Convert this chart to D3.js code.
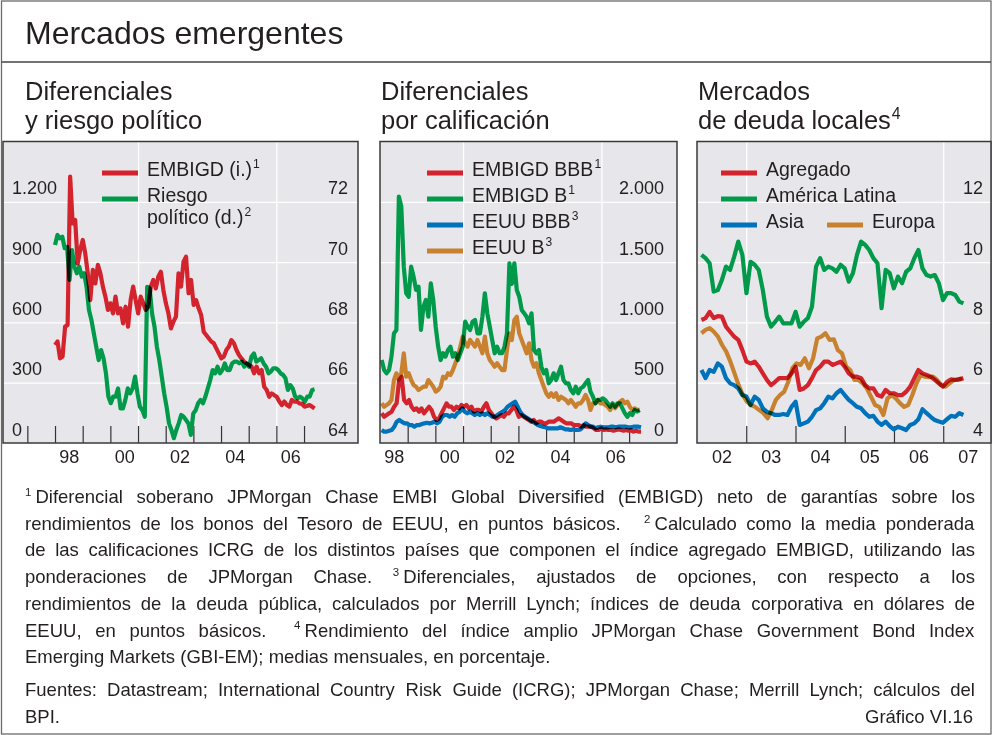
<!DOCTYPE html>
<html>
<head>
<meta charset="utf-8">
<script src="https://cdn.jsdelivr.net/npm/d3@7"></script>
<style>
  body { margin: 0; background: #fff; }
  svg text { font-family: "Liberation Sans", Arial, sans-serif; fill: #231f20; }
</style>
</head>
<body>
<svg id="chart" width="992" height="735"></svg>
<script>
(function () {
  // ---- data: panel 1, EMBIGD spread (bp, left) and political risk (ICRG, right)
  var p1Start = 1998.0, p1End = 2007.38;
  var embigd = [488,505,421,430,579,587,1325,1093,1110,894,960,1010,943,844,711,861,794,886,844,778,
    728,662,695,645,728,645,670,595,678,579,711,778,711,645,728,695,662,678,778,811,769,828,852,761,
    695,645,570,604,629,844,778,902,927,745,811,687,711,670,637,554,537,521,505,496,471,446,421,430,
    463,480,512,496,463,438,421,405,396,388,380,347,380,347,363,280,264,230,247,238,230,206,189,206,
    189,181,214,206,206,197,194,181,184,189,181,172];
  var riesgo = [70.57,70.9,70.79,70.84,70.46,70.5,69.41,70.4,69.85,69.63,69.85,69.52,69.63,69.18,68.41,
    68.08,67.64,67.19,66.75,67.08,66.81,66.31,65.54,65.32,65.54,65.54,65.81,65.15,65.15,65.43,65.81,
    65.65,65.81,66.2,65.65,65.2,65.09,64.87,69.18,69.13,68.3,67.86,67.19,66.75,66.2,65.65,65.2,64.65,
    64.43,64.16,64.43,64.65,64.93,64.87,64.76,64.65,64.27,64.98,65.09,65.32,65.43,65.32,65.54,65.81,
    66.09,66.42,66.31,66.53,66.31,66.42,66.64,66.42,66.42,66.64,66.7,66.7,66.64,66.7,66.53,66.64,66.53,
    66.86,66.97,66.7,66.75,66.81,66.64,66.53,66.31,66.37,66.48,66.48,66.42,66.31,66.26,66.15,65.76,
    65.92,65.81,65.54,65.48,65.54,65.48,65.37,65.54,65.54,65.76,65.78];

  // ---- panel 2, spreads by rating (bp)
  var p2Start = 1998.06, p2End = 2007.38;
  var embigdBBB = [246,218,232,246,260,301,329,522,550,357,329,357,301,274,287,260,287,246,274,301,274,
    218,191,204,246,287,329,301,301,274,301,287,315,301,315,287,301,260,274,274,260,301,329,274,246,218,
    204,218,232,218,246,246,274,301,274,218,232,218,204,191,177,191,163,177,177,163,163,177,177,177,191,
    204,191,177,163,163,163,149,149,149,135,149,135,135,135,122,108,108,122,108,113,108,108,102,108,113,
    108,102,108,102,108,94,102,94,94];
  var embigdB = [688,605,578,605,716,909,937,2043,1960,1462,1241,1213,1462,1379,1269,1296,937,1130,1186,
    1047,1324,1186,964,799,688,744,716,772,799,716,744,688,744,799,1006,964,937,1006,1020,909,909,1047,
    1241,1075,964,854,744,799,744,744,799,909,1490,1320,1490,1269,1213,1103,1075,1047,992,1075,772,744,
    772,633,578,605,495,522,578,522,578,633,522,495,495,439,412,467,412,453,467,495,522,426,384,329,357,
    357,370,357,329,301,329,301,329,329,287,246,218,246,232,274,260,274];
  var eeuuBBB = [108,94,94,102,108,135,177,191,177,163,163,149,149,135,149,149,157,163,168,163,168,177,
    163,177,218,232,232,218,232,218,246,260,287,260,246,260,246,232,246,232,246,232,246,232,218,218,232,
    246,260,274,301,315,329,343,301,260,232,218,204,191,177,163,149,141,135,130,122,122,122,122,122,130,
    122,113,113,108,113,108,108,113,135,163,149,135,135,122,130,135,130,130,130,135,135,130,135,135,135,
    135,130,130,135,135,135,130];
  var eeuuB = [329,301,315,329,357,522,578,522,578,744,550,578,522,481,467,439,453,467,467,522,495,467,
    426,439,467,550,536,578,564,605,661,716,799,882,827,799,854,827,799,854,799,744,882,744,688,661,633,
    661,633,605,605,772,909,854,1020,1047,909,854,799,744,827,688,633,661,578,522,467,412,384,412,384,
    412,357,384,370,357,329,357,329,301,329,329,357,398,357,274,329,329,357,329,329,315,301,274,315,287,
    315,343,357,329,343,301,274,287,274,274];

  // ---- panel 3, local debt market yields (%)
  var p3Start = 2002.09, p3End = 2007.41;
  var agregado = [8.08,8.14,8.35,8.14,8.21,8.19,7.86,7.69,7.53,7.42,7.08,6.7,6.64,6.7,6.53,6.31,6.09,5.92,
    6.03,6.15,6.15,6.15,6.31,6.53,5.76,5.81,5.92,6.15,6.42,6.53,6.7,6.7,6.59,6.64,6.7,6.53,6.31,6.2,6.2,
    6.15,5.92,5.81,5.81,5.59,5.54,5.76,5.65,5.65,5.59,5.59,5.7,5.87,6.15,6.42,6.31,6.26,6.2,6.09,5.98,
    5.87,6.03,6.11,6.09,6.11,6.15];
  var latam = [10.24,10.13,9.96,9.02,9.07,9.41,9.85,9.74,10.18,10.68,10.24,8.97,10.01,9.91,9.74,9.07,8.19,
    7.86,8.02,8.19,7.97,7.97,7.97,8.35,7.86,8.02,8.14,8.52,9.85,10.13,9.74,9.85,9.79,9.68,9.91,9.79,9.35,
    9.63,10.24,10.68,10.57,10.4,10.13,9.96,8.47,9.74,9.63,9.13,9.52,9.3,9.68,9.79,10.13,10.4,9.79,9.57,
    9.52,9.57,9.3,8.74,8.97,8.97,8.91,8.69,8.63];
  var asia = [6.42,6.15,6.42,6.36,6.64,6.53,6.15,5.98,5.92,5.81,5.59,5.54,5.26,5.54,5.43,5.15,5.03,4.99,
    4.93,4.93,4.96,4.93,5.2,5.37,4.6,4.65,4.71,4.87,5.09,5.15,5.32,5.54,5.48,5.65,5.76,5.59,5.43,5.32,5.2,
    5.15,4.99,4.87,4.9,4.71,4.6,4.71,4.56,4.45,4.54,4.49,4.43,4.6,4.65,4.79,5.12,4.99,4.87,4.76,4.71,
    4.67,4.79,4.9,4.87,4.99,4.93];
  var europa = [7.64,7.75,7.81,7.69,7.53,7.25,7.03,6.7,6.31,5.92,5.59,5.37,5.26,5.2,5.09,4.99,4.82,5.09,
    5.43,5.59,5.7,6.03,6.48,6.64,6.59,6.81,6.48,6.81,7.47,7.53,7.64,7.42,7.44,7.08,6.97,6.53,6.42,6.09,
    6.09,5.98,5.81,5.54,5.26,5.2,4.93,5.48,5.59,5.48,5.32,5.2,5.26,5.59,5.98,6.26,6.2,6.18,6.2,6.09,5.92,
    5.87,5.98,6.09,6.11,6.15];

  // ---- axis ticks and labels
  var ticks1Left = [0, 300, 600, 900, 1200];
  var ticks1Right = [64, 66, 68, 70, 72];
  var ticks2 = [0, 500, 1000, 1500, 2000];
  var ticks3 = [4, 6, 8, 10, 12];
  var yearLabels12 = [1998, 2000, 2002, 2004, 2006];
  var yearLabels3 = [2002, 2003, 2004, 2005, 2006, 2007];

  var footLines = [
    "¹Diferencial soberano JPMorgan Chase EMBI Global Diversified (EMBIGD) neto de garantías sobre los",
    "rendimientos de los bonos del Tesoro de EEUU, en puntos básicos.  ²Calculado como la media ponderada",
    "de las calificaciones ICRG de los distintos países que componen el índice agregado EMBIGD, utilizando las",
    "ponderaciones de JPMorgan Chase. ³Diferenciales, ajustados de opciones, con respecto a los",
    "rendimientos de la deuda pública, calculados por Merrill Lynch; índices de deuda corporativa en dólares de",
    "EEUU, en puntos básicos.  ⁴Rendimiento del índice amplio JPMorgan Chase Government Bond Index",
    "Emerging Markets (GBI-EM); medias mensuales, en porcentaje."
  ];
  var sourceLines = [
    "Fuentes: Datastream; International Country Risk Guide (ICRG); JPMorgan Chase; Merrill Lynch; cálculos del",
    "BPI."
  ];

  var red = "#d3232c", green = "#009a4a", blue = "#0072bb", orange = "#c8822f";
  var bg = "#e7e7eb";
  var yTop = 141.5, yBottom = 443;

  var svg = d3.select("svg#chart");
  var fmt = d3.formatLocale({decimal: ",", thousands: ".", grouping: [3], currency: ["", ""]}).format(",");
  var supMap = {"¹": "1", "²": "2", "³": "3", "⁴": "4"};

  function spread(vals, t0, t1) {
    var step = (t1 - t0) / (vals.length - 1);
    return vals.map((v, i) => ({t: t0 + i * step, v: v}));
  }

  // text with superscript footnote markers as tspans
  function richText(t, str, fs) {
    var runs = [], cur = null;
    for (var ch of str) {
      var sup = ch in supMap;
      if (!cur || cur.sup !== sup) { cur = {sup: sup, s: ""}; runs.push(cur); }
      cur.s += sup ? supMap[ch] : ch;
    }
    var k = fs * 0.38;
    runs.forEach(function (r, i) {
      var ts = t.append("tspan").text(r.s);
      if (r.sup) {
        ts.attr("font-size", fs * 0.62).attr("dy", -k);
        if (i > 0) ts.attr("dx", 1);
      } else if (i > 0) {
        ts.attr("dy", k);
        if (i === 1) ts.attr("dx", fs * 0.22);
      }
    });
    return t;
  }

  // outer frame and main title
  svg.append("rect").attr("x", 1.5).attr("y", 1).attr("width", 989.5).attr("height", 733)
     .attr("fill", "#fff").attr("stroke", "#6b6b6e").attr("stroke-width", 1.3);
  svg.append("line").attr("x1", 1.5).attr("x2", 991).attr("y1", 62).attr("y2", 62)
     .attr("stroke", "#444").attr("stroke-width", 1.3);
  svg.append("text").attr("x", 25).attr("y", 44).attr("font-size", 32).text("Mercados emergentes");

  function panel(o) {
    var g = svg.append("g");
    var w = o.x1 - o.x0;
    var x = d3.scaleLinear().domain(o.xDomain).range([o.x0, o.x1]);

    o.title.forEach(function (s, i) {
      richText(g.append("text").attr("x", o.titleX).attr("y", 100 + i * 29).attr("font-size", 25.5), s, 25.5);
    });

    g.append("rect").attr("x", o.x0).attr("y", yTop).attr("width", w).attr("height", yBottom - yTop)
     .attr("fill", bg);

    // white grid lines
    g.append("g").attr("transform", "translate(" + o.x0 + ",0)")
     .call(d3.axisLeft(o.yGrid).tickValues(o.gridVals).tickSize(-w).tickFormat(""))
     .call(s => s.select(".domain").remove())
     .selectAll("line").attr("stroke", "#fff").attr("stroke-width", 1.3);
    g.append("g").attr("transform", "translate(0," + yBottom + ")")
     .call(d3.axisBottom(x).tickValues(o.vGrid).tickSize(-(yBottom - yTop)).tickFormat(""))
     .call(s => s.select(".domain").remove())
     .selectAll("line").attr("stroke", "#fff").attr("stroke-width", 1.3);

    // year ticks inside the frame
    g.append("g").attr("transform", "translate(0," + yBottom + ")")
     .call(d3.axisBottom(x).tickValues(o.yearTicks).tickSizeInner(-17).tickSizeOuter(0).tickFormat(""))
     .call(s => s.select(".domain").remove())
     .selectAll("line").attr("stroke", "#333").attr("stroke-width", 1.2);

    // year labels centred on the year
    g.append("g").attr("transform", "translate(0," + yBottom + ")")
     .call(d3.axisBottom(x).tickValues(o.yearLabels.map(d => d + 0.5)).tickSize(0).tickPadding(7)
            .tickFormat(d => String(Math.floor(d)).slice(2)))
     .attr("font-size", 18)
     .call(s => s.select(".domain").remove());

    // value labels sitting above their grid lines
    o.axes.forEach(function (a) {
      var ax = a.anchor === "start" ? d3.axisRight(a.scale) : d3.axisLeft(a.scale);
      g.append("g").attr("transform", "translate(" + a.x + ",0)")
       .call(ax.tickValues(a.ticks).tickSize(0).tickPadding(0).tickFormat(fmt))
       .attr("font-size", 18)
       .call(s => s.select(".domain").remove())
       .selectAll("text").attr("dy", null).attr("y", -8);
    });

    var clipId = "clip" + o.x0;
    g.append("clipPath").attr("id", clipId).append("rect")
     .attr("x", o.x0).attr("y", yTop).attr("width", w).attr("height", yBottom - yTop);
    var plot = g.append("g").attr("clip-path", "url(#" + clipId + ")").style("isolation", "isolate");
    o.series.forEach(function (s) {
      var line = d3.line().x(d => x(d.t)).y(d => s.scale(d.v));
      plot.append("path").datum(spread(s.values, s.t0, s.t1))
          .attr("d", line).attr("fill", "none").attr("stroke", s.color)
          .attr("stroke-width", 4.2).attr("stroke-linejoin", "round")
          .style("mix-blend-mode", "multiply");
    });

    // legend
    o.legend.forEach(function (l) {
      g.append("line").attr("x1", l.x).attr("x2", l.x + 36).attr("y1", l.y).attr("y2", l.y)
       .attr("stroke", l.color).attr("stroke-width", 5);
      l.text.forEach(function (s, i) {
        richText(g.append("text").attr("x", l.x + 45).attr("y", l.y + 2.5 + i * 22).attr("font-size", 19.5), s, 19.5);
      });
    });

    g.append("rect").attr("x", o.x0).attr("y", yTop).attr("width", w).attr("height", yBottom - yTop)
     .attr("fill", "none").attr("stroke", "#3a3a3a").attr("stroke-width", 1.5);
  }

  var y1L = d3.scaleLinear().domain([0, 1500]).range([yBottom, yTop]);
  var y1R = d3.scaleLinear().domain([64, 74]).range([yBottom, yTop]);
  panel({
    x0: 3, x1: 358, xDomain: [1996.12, 2008.95], titleX: 25,
    title: ["Diferenciales", "y riesgo político"],
    yGrid: y1L, gridVals: ticks1Left.slice(1),
    vGrid: [2001, 2006], yearTicks: d3.range(1997, 2008), yearLabels: yearLabels12,
    axes: [{scale: y1L, ticks: ticks1Left, x: 12, anchor: "start"},
           {scale: y1R, ticks: ticks1Right, x: 348, anchor: "end"}],
    series: [{values: embigd, t0: p1Start, t1: p1End, scale: y1L, color: red},
             {values: riesgo, t0: p1Start, t1: p1End, scale: y1R, color: green}],
    legend: [{x: 102, y: 173, color: red, text: ["EMBIGD (i.)¹"]},
             {x: 102, y: 199, color: green, text: ["Riesgo", "político (d.)²"]}]
  });

  var y2 = d3.scaleLinear().domain([0, 2500]).range([yBottom, yTop]);
  panel({
    x0: 380, x1: 677, xDomain: [1998, 2008.73], titleX: 381,
    title: ["Diferenciales", "por calificación"],
    yGrid: y2, gridVals: ticks2.slice(1),
    vGrid: [2001, 2006], yearTicks: d3.range(1999, 2008), yearLabels: yearLabels12,
    axes: [{scale: y2, ticks: ticks2, x: 664, anchor: "end"}],
    series: [{values: embigdB, t0: p2Start, t1: p2End, scale: y2, color: green},
             {values: eeuuB, t0: p2Start, t1: p2End, scale: y2, color: orange},
             {values: embigdBBB, t0: p2Start, t1: p2End + 0.05, scale: y2, color: red},
             {values: eeuuBBB, t0: p2Start, t1: p2End + 0.05, scale: y2, color: blue}],
    legend: [{x: 427, y: 173, color: red, text: ["EMBIGD BBB¹"]},
             {x: 427, y: 199, color: green, text: ["EMBIGD B¹"]},
             {x: 427, y: 225, color: blue, text: ["EEUU BBB³"]},
             {x: 427, y: 251, color: orange, text: ["EEUU B³"]}]
  });

  var y3 = d3.scaleLinear().domain([4, 14]).range([yBottom, yTop]);
  panel({
    x0: 697, x1: 991, xDomain: [2002, 2007.97], titleX: 698,
    title: ["Mercados", "de deuda locales⁴"],
    yGrid: y3, gridVals: ticks3.slice(1),
    vGrid: [2003, 2007], yearTicks: d3.range(2003, 2008), yearLabels: yearLabels3,
    axes: [{scale: y3, ticks: ticks3, x: 983, anchor: "end"}],
    series: [{values: latam, t0: p3Start, t1: p3End, scale: y3, color: green},
             {values: europa, t0: p3Start, t1: p3End - 0.03, scale: y3, color: orange},
             {values: agregado, t0: p3Start, t1: p3End, scale: y3, color: red},
             {values: asia, t0: p3Start, t1: p3End, scale: y3, color: blue}],
    legend: [{x: 721, y: 173, color: red, text: ["Agregado"]},
             {x: 721, y: 199, color: green, text: ["América Latina"]},
             {x: 721, y: 225, color: blue, text: ["Asia"]},
             {x: 827, y: 225, color: orange, text: ["Europa"]}]
  });

  // footnotes, justified between x0 and x1
  var fx0 = 25, fx1 = 975, ffs = 18.5;
  var notes = svg.append("g");
  function footLine(str, y, justify) {
    var words = str.split(" "), toks = [], extra = 0;
    words.forEach(function (wd) {
      if (wd === "") { extra = 14; return; }
      var t = notes.append("text").attr("y", y).attr("font-size", ffs);
      richText(t, wd, ffs);
      toks.push({t: t, w: t.node().getBBox().width, extra: extra});
      extra = 0;
    });
    var sum = d3.sum(toks, d => d.w + d.extra);
    var gap = justify ? (fx1 - fx0 - sum) / (toks.length - 1) : ffs * 0.278;
    var xx = fx0;
    toks.forEach(function (d) {
      xx += d.extra;
      d.t.attr("x", xx);
      xx += d.w + gap;
    });
  }
  footLines.forEach(function (s, i) {
    footLine(s, 503 + i * 26.7, i < footLines.length - 1);
  });
  footLine(sourceLines[0], 696, true);
  footLine(sourceLines[1], 723, false);
  notes.append("text").attr("x", 973).attr("y", 723).attr("font-size", ffs)
       .attr("text-anchor", "end").text("Gráfico VI.16");
})();
</script>
</body>
</html>
